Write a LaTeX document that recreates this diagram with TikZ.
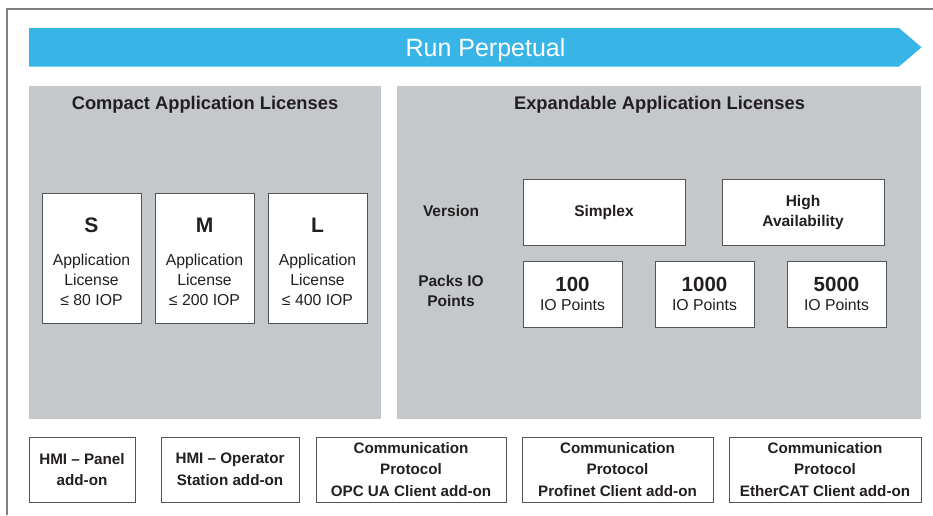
\documentclass[tikz,border=0pt]{standalone}
\usepackage{fontspec}
\setmainfont{Liberation Sans}
\definecolor{banner}{HTML}{39B4E6}
\definecolor{panel}{HTML}{C5C8CB}
\definecolor{ink}{HTML}{231F20}
\definecolor{frame}{HTML}{808080}
\definecolor{edge}{HTML}{555555}
\tikzset{
  lbox/.style={draw=edge, line width=0.9pt, fill=white, inner sep=0pt, align=center, text=ink},
  paneltitle/.style={font=\fontsize{18.3}{20}\selectfont\bfseries, text=ink, inner sep=0pt},
  lbl/.style={font=\fontsize{15.5}{20}\selectfont\bfseries, text=ink, inner sep=0pt, align=center},
  bottomtxt/.style={font=\fontsize{15.2}{21.5}\selectfont\bfseries},
  smltxt/.style={font=\fontsize{15.8}{20}\selectfont},
  smlbody/.style={smltxt, text=ink, inner sep=0pt, align=center},
}
\begin{document}
\begin{tikzpicture}[x=1pt,y=-1pt]
\useasboundingbox (0,0) rectangle (933,515);
\fill[white] (0,0) rectangle (933,515);
% outer frame
\draw[frame, line width=1.5pt] (7,515) -- (7,9) -- (933,9);
% banner
\fill[banner] (29,28) -- (899,28) -- (921.5,47.3) -- (899,66.5) -- (29,66.5) -- cycle;
\node[text=white, font=\fontsize{25}{26}\selectfont, inner sep=0pt] (run) at (485.5,50) {Run Perpetual};
% panels
\fill[panel] (29,86) rectangle (381,419);
\fill[panel] (397,86) rectangle (921,419);
\node[paneltitle] (ctitle) at (205,105) {Compact Application Licenses};
\node[paneltitle] (etitle) at (659.5,105) {Expandable Application Licenses};
% S M L
\node[lbox, minimum width=99pt, minimum height=130pt] (S) at (91.5,258) {};
\node[lbox, minimum width=99pt, minimum height=130pt] (M) at (204.5,258) {};
\node[lbox, minimum width=99pt, minimum height=130pt] (L) at (317.5,258) {};
\node[smlbody] (Stxt) at ([yshift=-4pt]S.center)
  {{\fontsize{21}{20}\selectfont\bfseries S}\\[13pt]Application\\License\\≤ 80 IOP};
\node[smlbody] (Mtxt) at ([yshift=-4pt]M.center)
  {{\fontsize{21}{20}\selectfont\bfseries M}\\[13pt]Application\\License\\≤ 200 IOP};
\node[smlbody] (Ltxt) at ([yshift=-4pt]L.center)
  {{\fontsize{21}{20}\selectfont\bfseries L}\\[13pt]Application\\License\\≤ 400 IOP};
% expandable
\node[lbl] (version) at (451,211) {Version};
\node[lbl] (packs) at (451,290.5) {Packs IO\\Points};
\node[lbox, minimum width=162pt, minimum height=66pt, font=\fontsize{15.5}{20}\selectfont\bfseries] (simplex) at (604,212) {Simplex};
\node[lbox, minimum width=162pt, minimum height=66pt, font=\fontsize{15.5}{20}\selectfont\bfseries] (ha) at (803,212) {High\\Availability};
\node[lbox, minimum width=99pt, minimum height=66pt, smltxt] (p100) at (572.5,294)
  {{\fontsize{20.5}{20}\selectfont\bfseries 100}\\[-1pt]IO Points};
\node[lbox, minimum width=99pt, minimum height=66pt, smltxt] (p1000) at (704.5,294)
  {{\fontsize{20.5}{20}\selectfont\bfseries 1000}\\[-1pt]IO Points};
\node[lbox, minimum width=99pt, minimum height=66pt, smltxt] (p5000) at (836.5,294)
  {{\fontsize{20.5}{20}\selectfont\bfseries 5000}\\[-1pt]IO Points};
% bottom add-ons
\node[lbox, minimum width=106pt, minimum height=65pt, bottomtxt] (hmip) at (82,469.5) {HMI – Panel\\add-on};
\node[lbox, minimum width=138pt, minimum height=65pt, bottomtxt] (hmio) at (230,469.5) {HMI – Operator\\Station add-on};
\node[lbox, minimum width=190pt, minimum height=65pt, bottomtxt] (opc) at (411,469.5) {Communication\\Protocol\\OPC UA Client add-on};
\node[lbox, minimum width=191pt, minimum height=65pt, bottomtxt] (pn) at (617.5,469.5) {Communication\\Protocol\\Profinet Client add-on};
\node[lbox, minimum width=192pt, minimum height=65pt, bottomtxt] (ec) at (825,469.5) {Communication\\Protocol\\EtherCAT Client add-on};
\end{tikzpicture}
\end{document}
